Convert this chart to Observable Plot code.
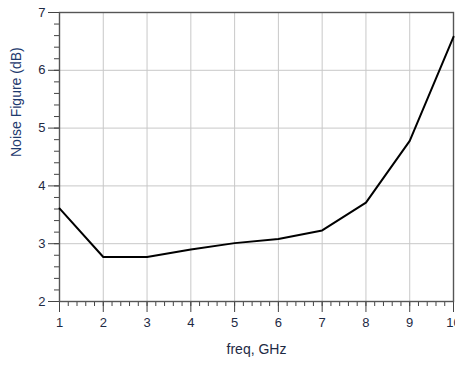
<!DOCTYPE html>
<html><head><meta charset="utf-8">
<script src="https://cdn.jsdelivr.net/npm/d3@7"></script>
<script src="https://cdn.jsdelivr.net/npm/@observablehq/plot@0.6"></script>
<style>body{margin:0;background:#fff;font-family:"Liberation Sans",Arial,sans-serif}</style>
</head><body><div id="chart"></div>
<script>
const freq = [1,2,3,4,5,6,7,8,9,10];
const nf = [3.61,2.77,2.77,2.90,3.01,3.08,3.23,3.71,4.78,6.58];
const xTicks = [1,2,3,4,5,6,7,8,9,10];
const yTicks = [2,3,4,5,6,7];
const data = freq.map((f,i)=>({f, v: nf[i]}));
const xMinor = d3.range(1, 10.001, 0.2).map(d=>+d.toFixed(1));
const yMinor = d3.range(2, 7.001, 0.2).map(d=>+d.toFixed(1));
const axisColor = "#444";
const chart = Plot.plot({
  width: 455, height: 368,
  marginLeft: 59, marginRight: 2, marginTop: 12, marginBottom: 67,
  style: {fontFamily: "Liberation Sans, Arial, sans-serif", fontSize: "13px", color: "#1e2a44", background: "#fff"},
  x: {domain: [1,10]},
  y: {domain: [2,7]},
  marks: [
    Plot.gridX(xTicks, {stroke: "#c8c8c8", strokeOpacity: 1}),
    Plot.gridY(yTicks, {stroke: "#c8c8c8", strokeOpacity: 1}),
    Plot.axisX(xMinor, {tickSize: 5, text: null, stroke: axisColor, label: null}),
    Plot.axisY(yMinor, {tickSize: 5, text: null, stroke: axisColor, label: null}),
    Plot.axisX(xTicks, {tickSize: 11, tickPadding: 5, stroke: axisColor, fill: "#1e2a44", label: null, tickFormat: "d", fontSize: 13}),
    Plot.axisY(yTicks, {tickSize: 11, tickPadding: 3, stroke: axisColor, fill: "#1e2a44", label: null, tickFormat: "d", fontSize: 13}),
    Plot.frame({stroke: "#555", strokeWidth: 1.4}),
    Plot.line(data, {x: "f", y: "v", stroke: "#000", strokeWidth: 2}),
    Plot.text(["freq, GHz"], {frameAnchor: "bottom", dy: 52, fontSize: 14, fill: "#1e2a44"}),
    Plot.text(["Noise Figure (dB)"], {frameAnchor: "left", dx: -43, rotate: -90, fontSize: 14, fill: "#1e3a6e"})
  ]
});
document.getElementById("chart").append(chart);
</script></body></html>
